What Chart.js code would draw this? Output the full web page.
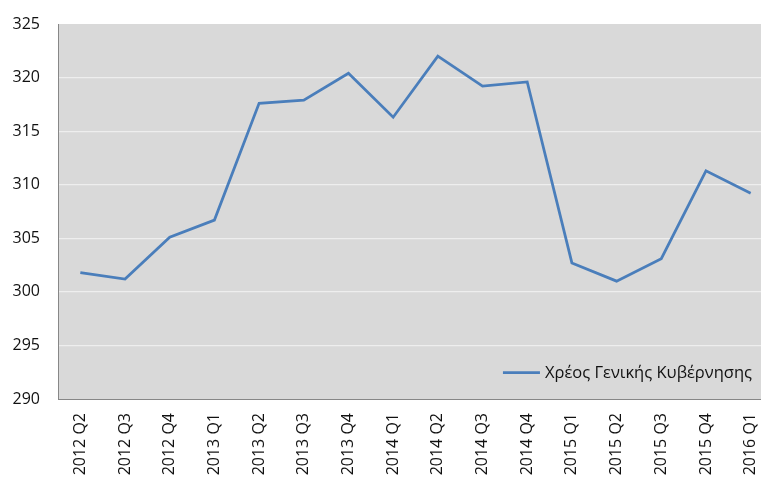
<!DOCTYPE html>
<html>
<head>
<meta charset="utf-8">
<script src="https://cdn.jsdelivr.net/npm/chart.js@4.4.1/dist/chart.umd.min.js"></script>
<style>
html, body { margin: 0; padding: 0; background: #fff; overflow: hidden; }
</style>
</head>
<body>
<canvas id="debtChart" width="773" height="480"></canvas>
<script>
const quarters = ['2012 Q2', '2012 Q3', '2012 Q4', '2013 Q1', '2013 Q2', '2013 Q3', '2013 Q4', '2014 Q1',
    '2014 Q2', '2014 Q3', '2014 Q4', '2015 Q1', '2015 Q2', '2015 Q3', '2015 Q4', '2016 Q1'];
const debt = [301.8, 301.2, 305.1, 306.7, 317.6, 317.9, 320.4, 316.3,
    322.0, 319.2, 319.6, 302.7, 301.0, 303.1, 311.3, 309.2];
const yTicks = [290, 295, 300, 305, 310, 315, 320, 325];
const seriesName = 'Χρέος Γενικής Κυβέρνησης';

const lineColor = '#4a7ebb';
const fontFamily = '"Open Sans", "DejaVu Sans", sans-serif';

// grey plot background
const plotBackground = {
    id: 'plotBackground',
    beforeDraw(chart) {
        const { ctx, chartArea } = chart;
        ctx.save();
        ctx.fillStyle = '#d9d9d9';
        ctx.fillRect(chartArea.left, chartArea.top, chartArea.right - chartArea.left, chartArea.bottom - chartArea.top);
        ctx.restore();
    }
};

// legend drawn inside the plot, bottom right
const legendInside = {
    id: 'legendInside',
    afterDatasetsDraw(chart) {
        const { ctx, chartArea } = chart;
        const ds = chart.data.datasets[0];
        ctx.save();
        ctx.font = '16.5px ' + fontFamily;
        ctx.textBaseline = 'middle';
        const textRight = chartArea.right - 21;
        const y = chartArea.bottom - 26.5;
        const w = ctx.measureText(ds.label).width;
        const x0 = textRight - w;
        ctx.strokeStyle = ds.borderColor;
        ctx.lineWidth = 2.75;
        ctx.beginPath();
        ctx.moveTo(x0 - 42, y);
        ctx.lineTo(x0 - 5, y);
        ctx.stroke();
        ctx.fillStyle = '#111';
        ctx.fillText(ds.label, x0, y + 1);
        ctx.restore();
    }
};

const ctx = document.getElementById('debtChart').getContext('2d');
const debtChart = new Chart(ctx, {
    type: 'line',
    data: {
        labels: quarters,
        datasets: [{
            label: seriesName,
            data: debt,
            borderColor: lineColor,
            backgroundColor: lineColor,
            borderWidth: 2.75,
            pointRadius: 0,
            tension: 0,
            fill: false
        }]
    },
    options: {
        responsive: false,
        maintainAspectRatio: false,
        devicePixelRatio: 1,
        animation: false,
        layout: { padding: { top: 24, right: 0, left: 0, bottom: 0 } },
        plugins: {
            legend: { display: false },
            tooltip: { enabled: false }
        },
        scales: {
            x: {
                offset: true,
                grid: { display: false, drawTicks: false },
                border: { display: true, color: '#878787', width: 1 },
                ticks: {
                    color: '#111',
                    font: { family: fontFamily, size: 16 },
                    minRotation: 90,
                    maxRotation: 90,
                    autoSkip: false,
                    padding: 14
                },
                afterFit(scale) {
                    scale.height = 81;
                    scale.paddingLeft = 0;
                    scale.paddingRight = 0;
                }
            },
            y: {
                min: yTicks[0],
                max: yTicks[yTicks.length - 1],
                afterBuildTicks(scale) {
                    scale.ticks = yTicks.map(v => ({ value: v }));
                },
                grid: {
                    color: (c) => (c.tick && (c.tick.value === yTicks[0] || c.tick.value === yTicks[yTicks.length - 1])) ? 'rgba(0,0,0,0)' : '#eeeeee',
                    lineWidth: 1.25,
                    drawTicks: false
                },
                border: { display: true, color: '#878787', width: 1 },
                ticks: {
                    color: '#111',
                    font: { family: fontFamily, size: 16 },
                    padding: 18
                },
                afterFit(scale) {
                    scale.width = 58;
                    scale.paddingTop = 0;
                    scale.paddingBottom = 0;
                }
            }
        }
    },
    plugins: [plotBackground, legendInside]
});
</script>
</body>
</html>
